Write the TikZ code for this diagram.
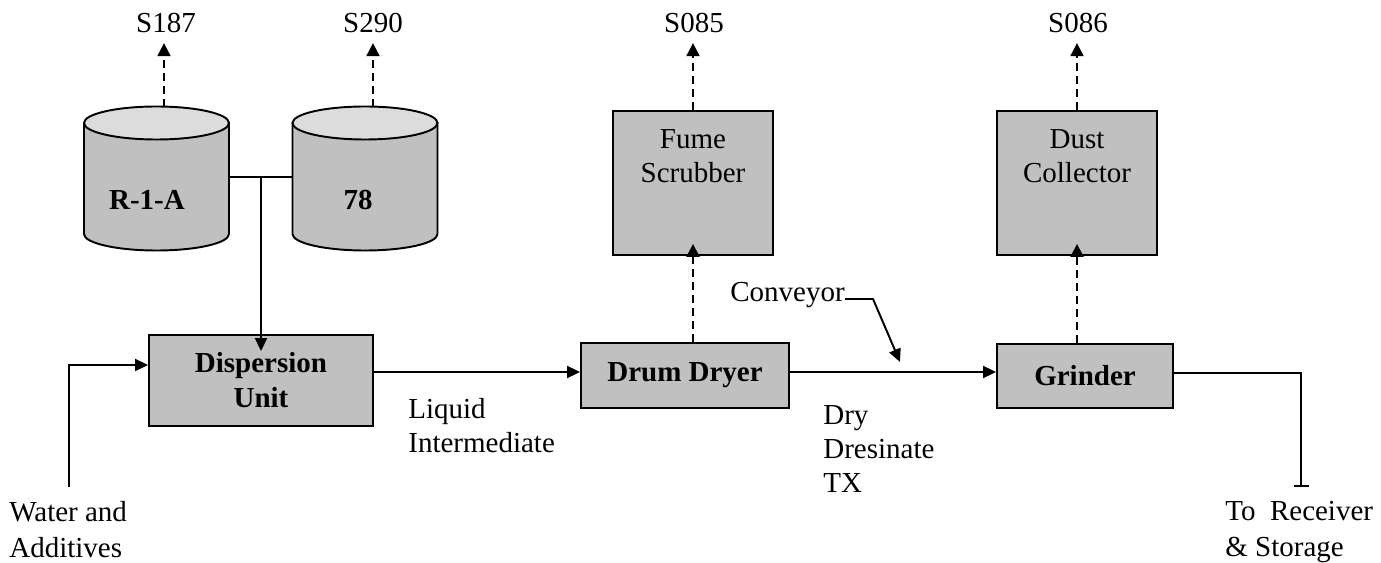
\documentclass[tikz,border=0pt]{standalone}
\usepackage{fontspec}
\setmainfont{Liberation Serif}
\usepackage{xcolor}
\definecolor{unitgray}{HTML}{C0C0C0}
\definecolor{topgray}{HTML}{DCDCDC}
\usepackage{tikz}
\usetikzlibrary{arrows.meta,positioning,calc}
% storage tank: name, centre x, label, label x, vent x
\newcommand{\tank}[5]{%
  \filldraw[fill=unitgray,line width=1.1pt] (#2-72.5,123) -- (#2-72.5,234)
    arc[start angle=180,end angle=360,x radius=1.45cm,y radius=0.33cm]
    -- (#2+72.5,123) -- cycle;
  \filldraw[fill=topgray,line width=1.1pt] (#2,123) ellipse[x radius=1.45cm,y radius=0.33cm];
  \node[tanklbl] (#1) at (#4,200) {#3};
  \coordinate (#1top) at (#5,107);
  \coordinate (#1west) at (#2-72.5,177);
  \coordinate (#1east) at (#2+72.5,177);}

\begin{document}
\begin{tikzpicture}[
  x=0.02cm, y=-0.02cm,
  every node/.style={font=\fontsize{16.5pt}{19.4pt}\selectfont},
  unit/.style={draw,fill=unitgray,line width=1.1pt,align=center,inner sep=0pt,
    font=\fontsize{16.5pt}{20pt}\selectfont\bfseries},
  ctrl/.style={draw,fill=unitgray,line width=1.1pt,inner sep=0pt},
  tanklbl/.style={font=\fontsize{16.5pt}{20pt}\selectfont\bfseries},
  lbl/.style={align=left,inner sep=0pt},
  endlbl/.style={lbl,font=\fontsize{16.5pt}{20.4pt}\selectfont},
  stream/.style={inner sep=0pt},
  arr/.style={-{Triangle[length=0.26cm,width=0.24cm]},line width=1.1pt},
  darr/.style={-{Triangle[length=0.26cm,width=0.26cm]},line width=1.1pt,
    dash pattern=on 0.16cm off 0.1cm},
  line/.style={line width=1.1pt}]
\useasboundingbox (0,0) rectangle (1381,563);
% reactors
\tank{tankA}{156.5}{R-1-A}{147}{164}
\tank{tankB}{365}{78}{358}{373}
% process units
\node[unit,minimum width=4.48cm,minimum height=1.82cm] (disp) at (261,380.5) {Dispersion\\Unit};
\node[unit,minimum width=4.16cm,minimum height=1.3cm] (drum) at (685,375.5) {Drum Dryer};
\node[unit,minimum width=3.52cm,minimum height=1.28cm] (grind) at (1085,376) {Grinder};
\node[ctrl,minimum width=3.2cm,minimum height=2.88cm,
  label={[lbl,align=center,anchor=north,yshift=-0.38cm]north:Fume\\Scrubber}] (fume) at (693,183) {};
\node[ctrl,minimum width=3.2cm,minimum height=2.88cm,
  label={[lbl,align=center,anchor=north,yshift=-0.38cm]north:Dust\\Collector}] (dust) at (1077,183) {};
% stack outlets
\node[stream] (s187) at (166,23) {S187};
\node[stream] (s290) at (373,23) {S290};
\node[stream] (s085) at (694,23) {S085};
\node[stream] (s086) at (1078,23) {S086};
% stream labels
\node[endlbl,anchor=north west] (water) at (9,501) {Water and\\Additives};
\node[lbl,anchor=north west] (liquid) at (408,398) {Liquid\\Intermediate};
\node[lbl,anchor=north west] (dry) at (823,405) {Dry\\Dresinate\\TX};
\node[endlbl,anchor=north west] (recv) at (1225,501) {To\ \ Receiver\\\& Storage};
\node[lbl,anchor=base west] (conv) at (730,302) {Conveyor};
\coordinate (feed) at (69,487);
\coordinate (junc) at (disp.north |- tankAeast);
\coordinate (belt) at (900,362);
\coordinate (out) at (1301,487);
% main flow
\draw[line] (tankAeast) -- (tankBwest);
\draw[arr] (junc) -- ($(disp.north)+(0,17)$);
\draw[arr] (feed) |- (disp.west |- 0,365);
\draw[arr] (disp.east |- 0,372) -- (drum.west |- 0,372);
\draw[arr] (drum.east |- 0,372) -- (grind.west |- 0,372);
\draw[-{Bar[width=0.3cm]},line width=1.1pt] (grind.east |- 0,373) -| (out);
\draw[arr] ($(conv.base east)+(0,-3)$) -- ++(28,0) -- (belt);
% vents
\draw[darr,shorten >=0.2cm] (tankAtop) -- (tankAtop |- s187.south);
\draw[darr,shorten >=0.2cm] (tankBtop) -- (tankBtop |- s290.south);
\draw[darr] (fume.south |- drum.north) -- ($(fume.south)+(0,-12)$);
\draw[darr,shorten >=0.2cm] (fume.north) -- (fume.north |- s085.south);
\draw[darr] (dust.south |- grind.north) -- ($(dust.south)+(0,-12)$);
\draw[darr,shorten >=0.2cm] (dust.north) -- (dust.north |- s086.south);
\end{tikzpicture}
\end{document}
